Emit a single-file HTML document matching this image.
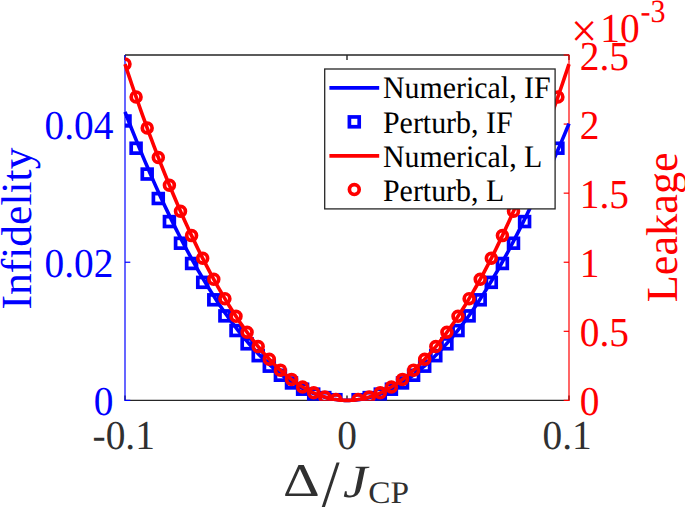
<!DOCTYPE html>
<html lang="en"><head><meta charset="utf-8"><title>Infidelity and Leakage</title>
<style>html,body{margin:0;padding:0;background:#fff}svg{display:block;text-rendering:geometricPrecision}</style></head>
<body>
<svg width="685" height="507" viewBox="0 0 685 507">
<defs><clipPath id="cm"><rect x="125.0" y="55.0" width="444.0" height="345.79999999999995"/></clipPath><clipPath id="cl"><rect x="123.0" y="53.0" width="448.0" height="350.0"/></clipPath></defs>
<rect width="685" height="507" fill="#fff"/>
<g stroke="#262626" stroke-width="1.4" fill="none">
<path d="M125.0 400.4H569.0M125.0 55.0H569.0"/>
<path d="M125.0 400.4v-5M125.0 55.0v5"/>
<path d="M347.0 400.4v-5M347.0 55.0v5"/>
<path d="M569.0 400.4v-5M569.0 55.0v5"/>
</g>
<g stroke="#0000ff" stroke-width="1.2" fill="none"><path d="M125.0 55.0V401.0"/>
<path d="M125.0 400.40h5.3"/>
<path d="M125.0 262.24h5.3"/>
<path d="M125.0 124.08h5.3"/>
</g>
<g stroke="#ff0000" stroke-width="1.2" fill="none"><path d="M569.0 54.4V401.0"/>
<path d="M569.0 400.40h-5.3"/>
<path d="M569.0 331.32h-5.3"/>
<path d="M569.0 262.24h-5.3"/>
<path d="M569.0 193.16h-5.3"/>
<path d="M569.0 124.08h-5.3"/>
<path d="M569.0 55.00h-5.3"/>
</g>
<polyline clip-path="url(#cl)" fill="none" stroke="#0000ff" stroke-width="3.6" stroke-linejoin="round" points="125.00,111.84 127.22,117.57 129.44,123.25 131.66,128.87 133.88,134.43 136.10,139.94 138.32,145.38 140.54,150.77 142.76,156.10 144.98,161.37 147.20,166.58 149.42,171.74 151.64,176.83 153.86,181.87 156.08,186.86 158.30,191.78 160.52,196.64 162.74,201.45 164.96,206.20 167.18,210.89 169.40,215.53 171.62,220.11 173.84,224.62 176.06,229.08 178.28,233.49 180.50,237.83 182.72,242.12 184.94,246.35 187.16,250.52 189.38,254.64 191.60,258.69 193.82,262.69 196.04,266.64 198.26,270.52 200.48,274.35 202.70,278.11 204.92,281.83 207.14,285.48 209.36,289.08 211.58,292.61 213.80,296.10 216.02,299.52 218.24,302.89 220.46,306.20 222.68,309.45 224.90,312.64 227.12,315.78 229.34,318.86 231.56,321.88 233.78,324.84 236.00,327.75 238.22,330.60 240.44,333.39 242.66,336.13 244.88,338.81 247.10,341.43 249.32,343.99 251.54,346.50 253.76,348.95 255.98,351.34 258.20,353.67 260.42,355.95 262.64,358.17 264.86,360.34 267.08,362.44 269.30,364.49 271.52,366.48 273.74,368.42 275.96,370.30 278.18,372.12 280.40,373.88 282.62,375.59 284.84,377.24 287.06,378.83 289.28,380.37 291.50,381.85 293.72,383.27 295.94,384.64 298.16,385.95 300.38,387.20 302.60,388.39 304.82,389.53 307.04,390.61 309.26,391.64 311.48,392.61 313.70,393.52 315.92,394.37 318.14,395.17 320.36,395.91 322.58,396.60 324.80,397.22 327.02,397.80 329.24,398.31 331.46,398.77 333.68,399.17 335.90,399.51 338.12,399.80 340.34,400.03 342.56,400.21 344.78,400.33 347.00,400.39 349.22,400.37 351.44,400.29 353.66,400.15 355.88,399.95 358.10,399.70 360.32,399.39 362.54,399.03 364.76,398.61 366.98,398.14 369.20,397.61 371.42,397.02 373.64,396.37 375.86,395.66 378.08,394.90 380.30,394.08 382.52,393.20 384.74,392.27 386.96,391.27 389.18,390.23 391.40,389.12 393.62,387.96 395.84,386.74 398.06,385.46 400.28,384.13 402.50,382.74 404.72,381.29 406.94,379.78 409.16,378.23 411.38,376.62 413.60,374.95 415.82,373.23 418.04,371.46 420.26,369.63 422.48,367.74 424.70,365.80 426.92,363.81 429.14,361.76 431.36,359.66 433.58,357.50 435.80,355.29 438.02,353.03 440.24,350.71 442.46,348.33 444.68,345.90 446.90,343.42 449.12,340.87 451.34,338.27 453.56,335.62 455.78,332.91 458.00,330.14 460.22,327.32 462.44,324.44 464.66,321.51 466.88,318.52 469.10,315.47 471.32,312.35 473.54,309.13 475.76,305.83 477.98,302.46 480.20,299.06 482.42,295.60 484.64,292.09 486.86,288.52 489.08,284.90 491.30,281.22 493.52,277.48 495.74,273.69 497.96,269.84 500.18,265.94 502.40,261.98 504.62,257.96 506.84,253.87 509.06,249.73 511.28,245.52 513.50,241.26 515.72,236.94 517.94,232.57 520.16,228.16 522.38,223.71 524.60,219.21 526.82,214.68 529.04,210.11 531.26,205.56 533.48,201.04 535.70,196.55 537.92,192.08 540.14,187.60 542.36,183.11 544.58,178.59 546.80,174.02 549.02,169.39 551.24,164.69 553.46,159.91 555.68,155.02 557.90,150.01 560.12,144.88 562.34,139.66 564.56,134.37 566.78,129.01 569.00,123.57"/>
<g clip-path="url(#cm)" fill="none" stroke="#0000ff" stroke-width="3.7">
<rect x="120.10" y="116.07" width="9.8" height="9.8"/>
<rect x="131.20" y="143.32" width="9.8" height="9.8"/>
<rect x="142.30" y="169.16" width="9.8" height="9.8"/>
<rect x="153.40" y="193.61" width="9.8" height="9.8"/>
<rect x="164.50" y="216.67" width="9.8" height="9.8"/>
<rect x="175.60" y="238.32" width="9.8" height="9.8"/>
<rect x="186.70" y="258.58" width="9.8" height="9.8"/>
<rect x="197.80" y="277.44" width="9.8" height="9.8"/>
<rect x="208.90" y="294.91" width="9.8" height="9.8"/>
<rect x="220.00" y="310.97" width="9.8" height="9.8"/>
<rect x="231.10" y="325.64" width="9.8" height="9.8"/>
<rect x="242.20" y="338.92" width="9.8" height="9.8"/>
<rect x="253.30" y="350.79" width="9.8" height="9.8"/>
<rect x="264.40" y="361.27" width="9.8" height="9.8"/>
<rect x="275.50" y="370.35" width="9.8" height="9.8"/>
<rect x="286.60" y="378.04" width="9.8" height="9.8"/>
<rect x="297.70" y="384.32" width="9.8" height="9.8"/>
<rect x="308.80" y="389.21" width="9.8" height="9.8"/>
<rect x="319.90" y="392.71" width="9.8" height="9.8"/>
<rect x="331.00" y="394.80" width="9.8" height="9.8"/>
<rect x="353.20" y="394.80" width="9.8" height="9.8"/>
<rect x="364.30" y="392.71" width="9.8" height="9.8"/>
<rect x="375.40" y="389.21" width="9.8" height="9.8"/>
<rect x="386.50" y="384.32" width="9.8" height="9.8"/>
<rect x="397.60" y="378.04" width="9.8" height="9.8"/>
<rect x="408.70" y="370.35" width="9.8" height="9.8"/>
<rect x="419.80" y="361.27" width="9.8" height="9.8"/>
<rect x="430.90" y="350.79" width="9.8" height="9.8"/>
<rect x="442.00" y="338.92" width="9.8" height="9.8"/>
<rect x="453.10" y="325.64" width="9.8" height="9.8"/>
<rect x="464.20" y="310.97" width="9.8" height="9.8"/>
<rect x="475.30" y="294.91" width="9.8" height="9.8"/>
<rect x="486.40" y="277.44" width="9.8" height="9.8"/>
<rect x="497.50" y="258.58" width="9.8" height="9.8"/>
<rect x="508.60" y="238.32" width="9.8" height="9.8"/>
<rect x="519.70" y="216.67" width="9.8" height="9.8"/>
<rect x="530.80" y="193.61" width="9.8" height="9.8"/>
<rect x="541.90" y="169.16" width="9.8" height="9.8"/>
<rect x="553.00" y="143.32" width="9.8" height="9.8"/>
</g>
<polyline clip-path="url(#cl)" fill="none" stroke="#ff0000" stroke-width="3.6" stroke-linejoin="round" points="125.00,64.12 127.22,70.81 129.44,77.44 131.66,83.99 133.88,90.48 136.10,96.91 138.32,103.26 140.54,109.55 142.76,115.77 144.98,121.93 147.20,128.01 149.42,134.03 151.64,139.98 153.86,145.87 156.08,151.69 158.30,157.44 160.52,163.12 162.74,168.74 164.96,174.28 167.18,179.77 169.40,185.18 171.62,190.53 173.84,195.81 176.06,201.02 178.28,206.16 180.50,211.24 182.72,216.25 184.94,221.20 187.16,226.07 189.38,230.88 191.60,235.62 193.82,240.30 196.04,244.90 198.26,249.44 200.48,253.92 202.70,258.32 204.92,262.66 207.14,266.93 209.36,271.13 211.58,275.27 213.80,279.34 216.02,283.34 218.24,287.27 220.46,291.14 222.68,294.94 224.90,298.67 227.12,302.34 229.34,305.94 231.56,309.47 233.78,312.93 236.00,316.33 238.22,319.66 240.44,322.92 242.66,326.12 244.88,329.24 247.10,332.30 249.32,335.30 251.54,338.22 253.76,341.08 255.98,343.87 258.20,346.59 260.42,349.25 262.64,351.84 264.86,354.36 267.08,356.82 269.30,359.21 271.52,361.53 273.74,363.78 275.96,365.96 278.18,368.08 280.40,370.13 282.62,372.12 284.84,374.04 287.06,375.89 289.28,377.67 291.50,379.38 293.72,381.03 295.94,382.61 298.16,384.12 300.38,385.57 302.60,386.95 304.82,388.26 307.04,389.50 309.26,390.68 311.48,391.79 313.70,392.83 315.92,393.81 318.14,394.72 320.36,395.56 322.58,396.33 324.80,397.04 327.02,397.68 329.24,398.25 331.46,398.75 333.68,399.19 335.90,399.56 338.12,399.86 340.34,400.10 342.56,400.27 344.78,400.37 347.00,400.40 349.22,400.37 351.44,400.27 353.66,400.10 355.88,399.86 358.10,399.56 360.32,399.19 362.54,398.75 364.76,398.25 366.98,397.68 369.20,397.04 371.42,396.33 373.64,395.56 375.86,394.72 378.08,393.81 380.30,392.83 382.52,391.79 384.74,390.68 386.96,389.50 389.18,388.26 391.40,386.95 393.62,385.57 395.84,384.12 398.06,382.61 400.28,381.03 402.50,379.38 404.72,377.67 406.94,375.89 409.16,374.04 411.38,372.12 413.60,370.13 415.82,368.08 418.04,365.96 420.26,363.78 422.48,361.53 424.70,359.21 426.92,356.82 429.14,354.36 431.36,351.84 433.58,349.25 435.80,346.59 438.02,343.87 440.24,341.08 442.46,338.22 444.68,335.30 446.90,332.30 449.12,329.24 451.34,326.12 453.56,322.92 455.78,319.66 458.00,316.33 460.22,312.93 462.44,309.47 464.66,305.94 466.88,302.34 469.10,298.67 471.32,294.94 473.54,291.14 475.76,287.27 477.98,283.34 480.20,279.34 482.42,275.27 484.64,271.13 486.86,266.93 489.08,262.66 491.30,258.32 493.52,253.92 495.74,249.44 497.96,244.90 500.18,240.30 502.40,235.62 504.62,230.88 506.84,226.07 509.06,221.20 511.28,216.25 513.50,211.24 515.72,206.16 517.94,201.02 520.16,195.81 522.38,190.53 524.60,185.18 526.82,179.77 529.04,174.28 531.26,168.74 533.48,163.12 535.70,157.44 537.92,151.69 540.14,145.87 542.36,139.98 544.58,134.03 546.80,128.01 549.02,121.93 551.24,115.77 553.46,109.55 555.68,103.26 557.90,96.91 560.12,90.48 562.34,83.99 564.56,77.44 566.78,70.81 569.00,64.12"/>
<g clip-path="url(#cm)" fill="none" stroke="#ff0000" stroke-width="3.7">
<circle cx="125.00" cy="64.12" r="4.9"/>
<circle cx="136.10" cy="96.91" r="4.9"/>
<circle cx="147.20" cy="128.01" r="4.9"/>
<circle cx="158.30" cy="157.44" r="4.9"/>
<circle cx="169.40" cy="185.18" r="4.9"/>
<circle cx="180.50" cy="211.24" r="4.9"/>
<circle cx="191.60" cy="235.62" r="4.9"/>
<circle cx="202.70" cy="258.32" r="4.9"/>
<circle cx="213.80" cy="279.34" r="4.9"/>
<circle cx="224.90" cy="298.67" r="4.9"/>
<circle cx="236.00" cy="316.33" r="4.9"/>
<circle cx="247.10" cy="332.30" r="4.9"/>
<circle cx="258.20" cy="346.59" r="4.9"/>
<circle cx="269.30" cy="359.21" r="4.9"/>
<circle cx="280.40" cy="370.13" r="4.9"/>
<circle cx="291.50" cy="379.38" r="4.9"/>
<circle cx="302.60" cy="386.95" r="4.9"/>
<circle cx="313.70" cy="392.83" r="4.9"/>
<circle cx="324.80" cy="397.04" r="4.9"/>
<circle cx="335.90" cy="399.56" r="4.9"/>
<circle cx="358.10" cy="399.56" r="4.9"/>
<circle cx="369.20" cy="397.04" r="4.9"/>
<circle cx="380.30" cy="392.83" r="4.9"/>
<circle cx="391.40" cy="386.95" r="4.9"/>
<circle cx="402.50" cy="379.38" r="4.9"/>
<circle cx="413.60" cy="370.13" r="4.9"/>
<circle cx="424.70" cy="359.21" r="4.9"/>
<circle cx="435.80" cy="346.59" r="4.9"/>
<circle cx="446.90" cy="332.30" r="4.9"/>
<circle cx="458.00" cy="316.33" r="4.9"/>
<circle cx="469.10" cy="298.67" r="4.9"/>
<circle cx="480.20" cy="279.34" r="4.9"/>
<circle cx="491.30" cy="258.32" r="4.9"/>
<circle cx="502.40" cy="235.62" r="4.9"/>
<circle cx="513.50" cy="211.24" r="4.9"/>
<circle cx="524.60" cy="185.18" r="4.9"/>
<circle cx="535.70" cy="157.44" r="4.9"/>
<circle cx="546.80" cy="128.01" r="4.9"/>
<circle cx="557.90" cy="96.91" r="4.9"/>
</g>
<rect x="324.7" y="69.0" width="230.40000000000003" height="139.9" fill="#fff" stroke="#262626" stroke-width="1.3"/>
<path d="M329.4 87.9H379.2" stroke="#0000ff" stroke-width="3.6"/>
<rect x="349.40000000000003" y="116.94999999999999" width="9.8" height="9.8" fill="none" stroke="#0000ff" stroke-width="3.7"/>
<path d="M329.4 155.85H379.2" stroke="#ff0000" stroke-width="3.6"/>
<circle cx="354.3" cy="189.6" r="4.9" fill="none" stroke="#ff0000" stroke-width="3.7"/>
<text font-family="'Liberation Serif', 'Times New Roman', serif" font-size="29.9" fill="#000" text-anchor="start" transform="translate(383.00,98.30) scale(1,1.045)">Numerical, IF</text>
<text font-family="'Liberation Serif', 'Times New Roman', serif" font-size="29.9" fill="#000" text-anchor="start" transform="translate(383.00,132.70) scale(1,1.045)">Perturb, IF</text>
<text font-family="'Liberation Serif', 'Times New Roman', serif" font-size="29.9" fill="#000" text-anchor="start" transform="translate(383.00,167.00) scale(1,1.045)">Numerical, L</text>
<text font-family="'Liberation Serif', 'Times New Roman', serif" font-size="29.9" fill="#000" text-anchor="start" transform="translate(383.00,201.40) scale(1,1.045)">Perturb, L</text>
<text font-family="'Liberation Serif', 'Times New Roman', serif" font-size="39.4" fill="#0000ff" text-anchor="end" transform="translate(113.40,415.30) scale(1,1.045)">0</text>
<text font-family="'Liberation Serif', 'Times New Roman', serif" font-size="39.4" fill="#0000ff" text-anchor="end" transform="translate(113.40,277.14) scale(1,1.045)">0.02</text>
<text font-family="'Liberation Serif', 'Times New Roman', serif" font-size="39.4" fill="#0000ff" text-anchor="end" transform="translate(113.40,138.98) scale(1,1.045)">0.04</text>
<text font-family="'Liberation Serif', 'Times New Roman', serif" font-size="39.4" fill="#ff0000" text-anchor="start" transform="translate(579.70,415.30) scale(1,1.045)">0</text>
<text font-family="'Liberation Serif', 'Times New Roman', serif" font-size="39.4" fill="#ff0000" text-anchor="start" transform="translate(579.70,346.22) scale(1,1.045)">0.5</text>
<text font-family="'Liberation Serif', 'Times New Roman', serif" font-size="39.4" fill="#ff0000" text-anchor="start" transform="translate(579.70,277.14) scale(1,1.045)">1</text>
<text font-family="'Liberation Serif', 'Times New Roman', serif" font-size="39.4" fill="#ff0000" text-anchor="start" transform="translate(579.70,208.06) scale(1,1.045)">1.5</text>
<text font-family="'Liberation Serif', 'Times New Roman', serif" font-size="39.4" fill="#ff0000" text-anchor="start" transform="translate(579.70,138.98) scale(1,1.045)">2</text>
<text font-family="'Liberation Serif', 'Times New Roman', serif" font-size="39.4" fill="#ff0000" text-anchor="start" transform="translate(579.70,69.90) scale(1,1.045)">2.5</text>
<text font-family="'Liberation Serif', 'Times New Roman', serif" font-size="46.6" fill="#ff0000" text-anchor="start" transform="translate(571.00,47.30) scale(1,1.045)">×</text>
<text font-family="'Liberation Serif', 'Times New Roman', serif" font-size="39.4" fill="#ff0000" text-anchor="start" transform="translate(600.30,41.80) scale(1,1.045)">10</text>
<text font-family="'Liberation Serif', 'Times New Roman', serif" font-size="30" fill="#ff0000" text-anchor="start" transform="translate(640.60,22.20) scale(1,1.08)">-3</text>
<text font-family="'Liberation Serif', 'Times New Roman', serif" font-size="39.4" fill="#303030" text-anchor="middle" transform="translate(123.70,449.40) scale(1,1.045)">-0.1</text>
<text font-family="'Liberation Serif', 'Times New Roman', serif" font-size="39.4" fill="#303030" text-anchor="middle" transform="translate(347.00,449.40) scale(1,1.045)">0</text>
<text font-family="'Liberation Serif', 'Times New Roman', serif" font-size="39.4" fill="#303030" text-anchor="middle" transform="translate(567.10,449.40) scale(1,1.045)">0.1</text>
<text font-family="'Liberation Serif', 'Times New Roman', serif" font-size="43.5" fill="#0000ff" text-anchor="middle" transform="translate(31.00,228.50) rotate(-90) scale(1,0.99)">Infidelity</text>
<text font-family="'Liberation Serif', 'Times New Roman', serif" font-size="44.3" fill="#ff0000" text-anchor="middle" transform="translate(676.50,227.30) rotate(-90) scale(1,1.0)">Leakage</text>
<text font-family="'Liberation Serif', 'Times New Roman', serif" font-size="45" fill="#303030" text-anchor="start" transform="translate(283.00,496.00) scale(1.27,1.04)">Δ</text>
<text font-family="'Liberation Serif', 'Times New Roman', serif" font-size="45" fill="#303030" text-anchor="start" transform="translate(321.50,506.50) scale(1.45,1.5)">/</text>
<text font-family="'Liberation Serif', 'Times New Roman', serif" font-size="45" fill="#303030" text-anchor="start" transform="translate(343.00,496.80) scale(1.22,1.03)" font-style="italic">J</text>
<text font-family="'Liberation Serif', 'Times New Roman', serif" font-size="31.5" fill="#303030" text-anchor="start" transform="translate(368.30,503.00) scale(1.06,1.0)">CP</text>
</svg>
</body></html>
